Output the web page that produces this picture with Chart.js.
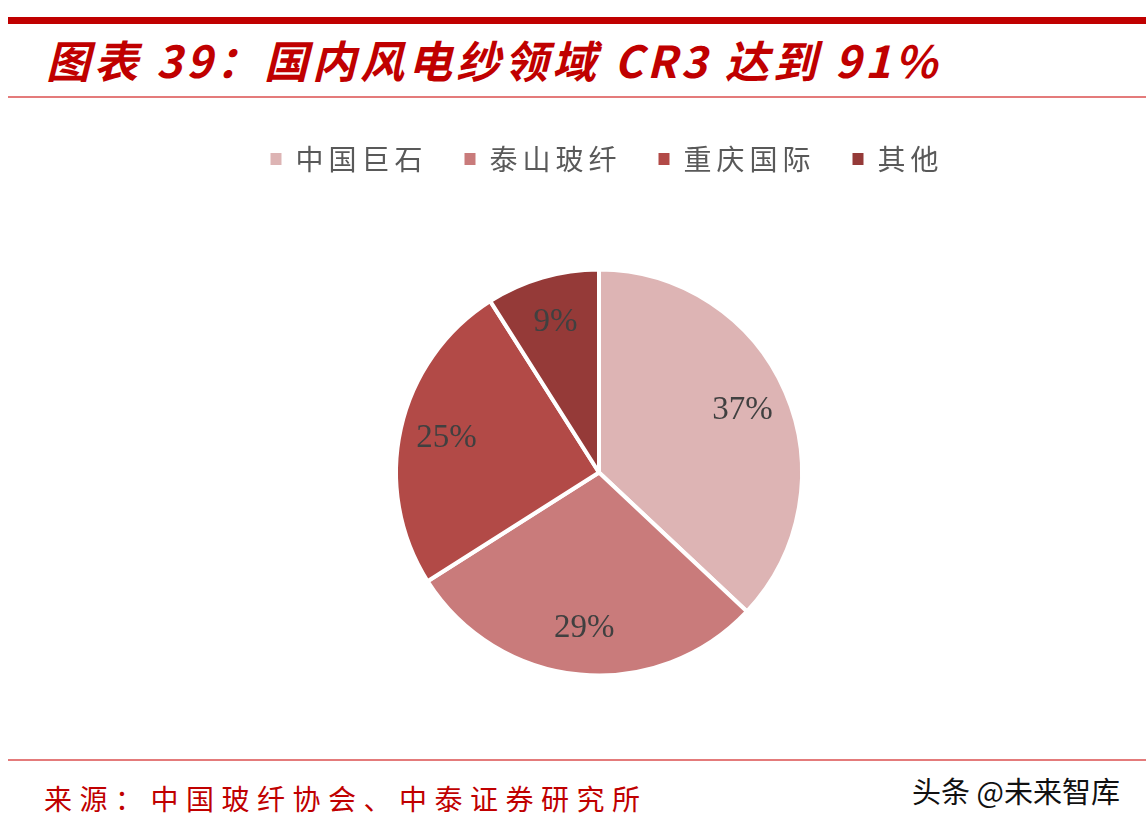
<!DOCTYPE html>
<html><head><meta charset="utf-8">
<script src="https://cdn.jsdelivr.net/npm/chart.js@4.4.0/dist/chart.umd.min.js"></script>
<style>
html,body{margin:0;padding:0;background:#fff;width:1146px;height:826px;overflow:hidden;position:relative;}
#topbar{position:absolute;left:8px;top:17px;width:1138px;height:7px;background:#C00000;}
#title{position:absolute;left:46px;top:31px;font-family:"Noto Sans CJK SC";font-weight:bold;font-style:italic;font-size:44px;letter-spacing:4px;color:#C00000;line-height:56px;white-space:nowrap;}
#line1{position:absolute;left:8px;top:96px;width:1138px;height:2px;background:#E47B7B;}
#line2{position:absolute;left:8px;top:759px;width:1138px;height:2px;background:#E47B7B;}
#source{position:absolute;left:44px;top:778px;font-family:"Noto Sans CJK SC";font-size:28px;letter-spacing:7.5px;color:#C00000;line-height:40px;white-space:nowrap;}
#wm{position:absolute;left:912px;top:770px;font-family:"Noto Sans CJK SC";font-size:29px;color:#111;line-height:40px;white-space:nowrap;}
#wrap{position:absolute;left:0;top:86px;width:1146px;height:680px;}
</style></head>
<body>
<div id="topbar"></div>
<div id="title">图表 39：国内风电纱领域 CR3 达到 91%</div>
<div id="line1"></div>
<div id="wrap"><canvas id="c"></canvas></div>
<div id="line2"></div>
<div id="source">来源：中国玻纤协会、中泰证券研究所</div>
<div id="wm">头条 @未来智库</div>
<script>
const categories = ["中国巨石", "泰山玻纤", "重庆国际", "其他"];
const shares = [37, 29, 25, 9];
const valueLabels = ["37%", "29%", "25%", "9%"];
const colors = ["#DDB4B4", "#C97B7B", "#B24A47", "#953A38"];

const spacingPlugin = {
  id: 'spacing',
  beforeLayout(chart){ chart.ctx.letterSpacing = '5px'; },
  afterLayout(chart){ if (chart.legend) { chart.legend.left += 8; chart.legend.right += 8; } },
  beforeDraw(chart){ chart.ctx.letterSpacing = '5px'; }
};
const labelPlugin = {
  id: 'sliceLabels',
  afterDatasetsDraw(chart){
    const ctx = chart.ctx;
    const meta = chart.getDatasetMeta(0);
    ctx.save();
    ctx.letterSpacing = '0px';
    ctx.font = '33px "Liberation Serif"';
    ctx.fillStyle = '#404040';
    ctx.textAlign = 'center';
    ctx.textBaseline = 'middle';
    meta.data.forEach((arc, i) => {
      const p = arc.getProps(['x','y','startAngle','endAngle','outerRadius'], true);
      const mid = (p.startAngle + p.endAngle) / 2;
      const r = p.outerRadius * 0.77;
      ctx.fillText(valueLabels[i], p.x + Math.cos(mid) * r, p.y + Math.sin(mid) * r);
    });
    ctx.restore();
  }
};

new Chart(document.getElementById('c'), {
  type: 'pie',
  data: {
    labels: categories,
    datasets: [{
      data: shares,
      backgroundColor: colors,
      borderColor: '#ffffff',
      borderWidth: 4,
      radius: 203
    }]
  },
  options: {
    responsive: true,
    maintainAspectRatio: false,
    animation: false,
    layout: { padding: { top: 22, bottom: 4, left: 52, right: 0 } },
    plugins: {
      tooltip: { enabled: false },
      legend: {
        position: 'top',
        labels: {
          boxWidth: 11, boxHeight: 12,
          padding: 37,
          color: '#595959',
          font: { family: '"Noto Sans CJK SC"', size: 28, weight: 'normal' },
          generateLabels(chart){
            return categories.map((t, i) => ({
              text: t, fillStyle: colors[i], strokeStyle: colors[i], lineWidth: 0,
              fontColor: '#595959', hidden: false, index: i
            }));
          }
        }
      }
    }
  },
  plugins: [spacingPlugin, labelPlugin]
});
</script>
</body></html>
